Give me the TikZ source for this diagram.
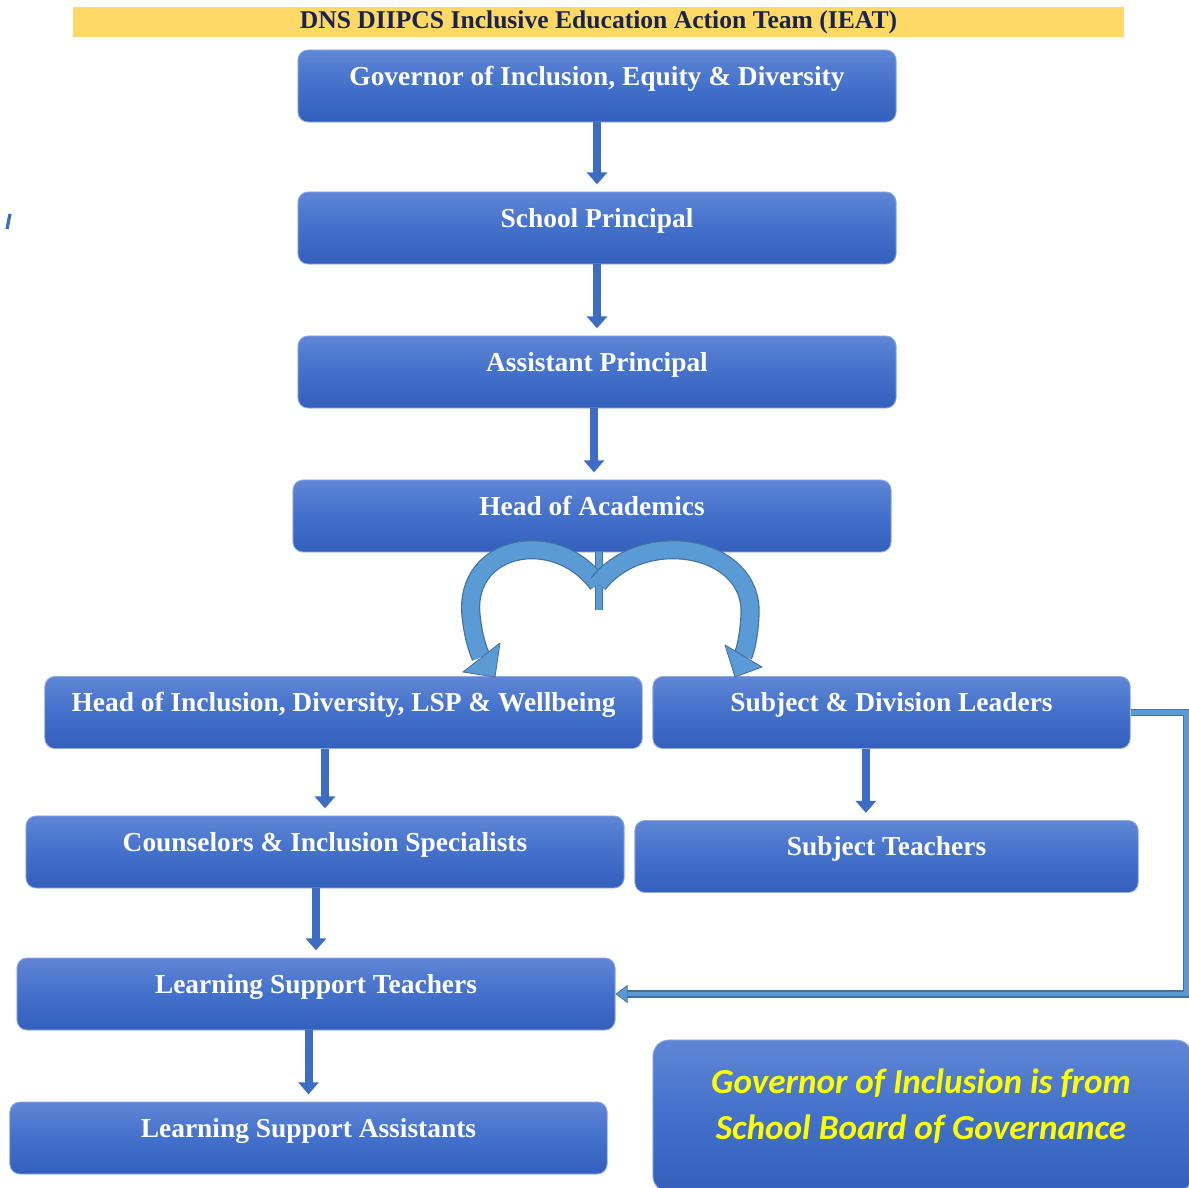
\documentclass[tikz,border=0pt]{standalone}
\usepackage{fontspec}
\setmainfont{Liberation Serif}
\newfontfamily\notefont{Carlito}
\usetikzlibrary{arrows.meta}

\definecolor{boxtop}{RGB}{96,134,214}
\definecolor{boxmid}{RGB}{66,112,202}
\definecolor{boxbot}{RGB}{50,96,188}
\definecolor{arrowblue}{RGB}{60,108,196}
\definecolor{arcfill}{RGB}{91,155,213}
\definecolor{arcedge}{RGB}{65,113,156}
\definecolor{bannergold}{RGB}{255,217,102}
\definecolor{bannertext}{RGB}{25,35,80}
\definecolor{noteyellow}{RGB}{255,255,0}

\begin{document}
\begin{tikzpicture}[x=0.025cm, y=-0.025cm]
\tikzstyle{role} = [rectangle, rounded corners=0.25cm, minimum height=1.8cm, text height=0.88cm, text depth=0.92cm, inner ysep=0pt, top color=boxtop, bottom color=boxbot, middle color=boxmid, draw=boxtop!70!white, line width=0.6pt, text=white, font=\fontsize{19.5}{22}\selectfont\bfseries]
\tikzstyle{banner} = [rectangle, fill=bannergold, minimum width=26.275cm, minimum height=0.75cm, inner sep=0pt, text=bannertext, font=\fontsize{18.2}{20}\selectfont\bfseries]
\tikzstyle{notebox} = [rectangle, rounded corners=0.4cm, top color=boxtop, bottom color=boxbot, middle color=boxmid, draw=boxtop!70!white, line width=0.6pt, minimum width=13.475cm, minimum height=3.8cm]
\tikzstyle{notetext} = [align=center, text=noteyellow, font=\notefont\fontsize{25}{33}\selectfont\bfseries\itshape]

\tikzstyle{arrow} = [line width=0.2cm, draw=arrowblue, -{Triangle[width=0.5cm, length=0.3cm]}, shorten >=0.18cm]
\tikzstyle{arcbody} = [line width=0.42cm, draw=arcfill, preaction={draw=arcedge, line width=0.48cm}]
\tikzstyle{archead} = [fill=arcfill, draw=arcedge, line width=0.6pt, line join=round]
\tikzstyle{stem} = [line width=0.15cm, draw=arcfill, preaction={draw=arcedge, line width=0.19cm}]
\tikzstyle{link} = [draw=arcedge, double=arcfill, double distance=0.12cm, line width=0.8pt, -{Triangle[width=0.45cm, length=0.3cm, fill=arcfill, color=arcedge, line width=0.5pt]}]

    \useasboundingbox (0,0) rectangle (1189,1188);

    \node (banner) at (598.5,22) [banner] {DNS DIIPCS Inclusive Education Action Team (IEAT)};

    \node (gov) at (597,86) [role, minimum width=14.95cm] {Governor of Inclusion, Equity \& Diversity};
    \node (sp) at (597,228) [role, minimum width=14.95cm] {School Principal};
    \node (ap) at (597,372) [role, minimum width=14.95cm] {Assistant Principal};
    \node (hoa) at (592,516) [role, minimum width=14.95cm] {Head of Academics};

    \node (hid) at (343.5,712.5) [role, minimum width=14.93cm] {Head of Inclusion, Diversity, LSP \& Wellbeing};
    \node (sdl) at (891.5,712.5) [role, minimum width=11.93cm] {Subject \& Division Leaders};
    \node (cis) at (325,852) [role, minimum width=14.95cm] {Counselors \& Inclusion Specialists};
    \node (st) at (886.5,856.5) [role, minimum width=12.58cm] {Subject Teachers};
    \node (lst) at (316,994) [role, minimum width=14.95cm] {Learning Support Teachers};
    \node (lsa) at (308.5,1138) [role, minimum width=14.93cm] {Learning Support Assistants};

    \node (note) at (922.5,1116) [notebox] {};
    \node (notenote) at (921,1106) [notetext] {Governor of Inclusion is from\\School Board of Governance};

    % chain of command
    \draw [arrow] (gov) -- (sp);
    \draw [arrow] (sp) -- (ap);
    \draw [arrow] ([xshift=-0.075cm]ap.south) -- ([xshift=-0.075cm]ap.south |- hoa.north);
    \draw [arrow] (hid.south -| cis.north) -- (cis.north);
    \draw [arrow] ([xshift=-0.64cm]sdl.south) -- ([xshift=-0.64cm]sdl.south |- st.north);
    \draw [arrow] (cis.south -| lst.north) -- (lst.north);
    \draw [arrow] (lst.south -| lsa.north) -- (lsa.north);

    % split below head of academics
    \coordinate (fork) at (598,584);
    \coordinate (leftend) at (481,657);
    \coordinate (rightend) at (743,656);
    \draw [stem] (hoa.south -| 599,0) -- ++(0,58);
    \draw [arcbody] (fork) .. controls (555,526) and (464,545) .. (471,615) .. controls (473,635) and (477,648) .. (leftend);
    \draw [archead] (463,672) -- (500,643) -- (495,677) -- cycle;
    \draw [arcbody] (fork) .. controls (643,526) and (754,545) .. (750,615) .. controls (749,635) and (746,648) .. (rightend);
    \draw [archead] (725,645) -- (762,667) -- (735,677) -- cycle;

    \draw [link] (sdl.east) -- ++(56,0) |- (lst.east);

    \draw [arrowblue, line width=0.08cm] (10,214) -- (7,229);
\end{tikzpicture}
\end{document}
